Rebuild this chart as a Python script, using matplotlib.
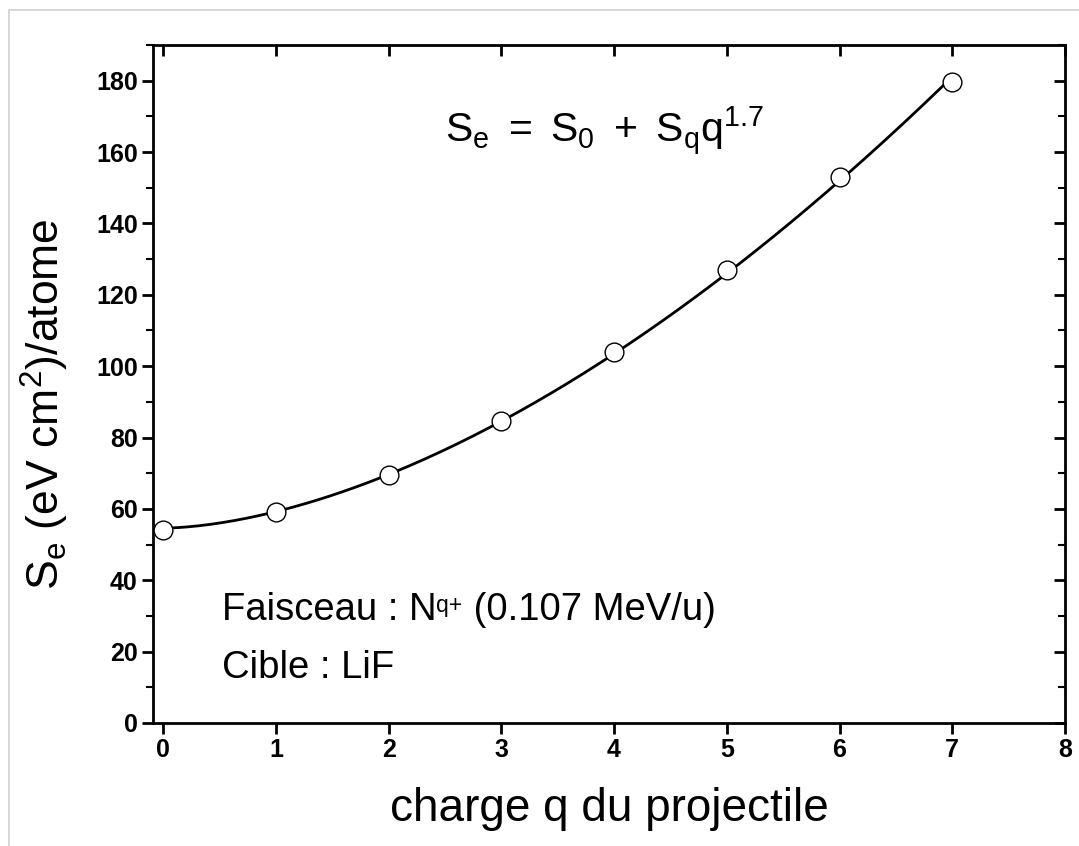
import numpy as np
import matplotlib.pyplot as plt
from matplotlib.ticker import MultipleLocator
from matplotlib.patches import Rectangle

# data
charge = [0, 1, 2, 3, 4, 5, 6, 7]
se_values = [54.0, 59.0, 69.5, 84.5, 104.0, 127.0, 153.0, 179.5]
exponent = 1.7

plt.rcParams['font.family'] = ['Liberation Sans', 'DejaVu Sans']
plt.rcParams['mathtext.fontset'] = 'custom'
plt.rcParams['mathtext.rm'] = 'Liberation Sans'
plt.rcParams['mathtext.it'] = 'Liberation Sans'

# least squares fit of S0 + Sq * q^1.7 on the points
q = np.array(charge, dtype=float)
se = np.array(se_values)
A = np.vstack([np.ones_like(q), q ** exponent]).T
s0, sq = np.linalg.lstsq(A, se, rcond=None)[0]
q_fit = np.linspace(0, 7, 200)
se_fit = s0 + sq * q_fit ** exponent

fig = plt.figure(figsize=(10.79, 8.46), dpi=100)
ax = fig.add_axes([0.1418, 0.1454, 0.8452, 0.8014])

ax.plot(q_fit, se_fit, color='black', lw=2.0, zorder=2)
ax.plot(q, se, 'o', ms=13.5, mfc='white', mec='black', mew=1.0, zorder=3)

ax.set_xlim(-0.09, 8)
ax.set_ylim(0, 190)
ax.xaxis.set_major_locator(MultipleLocator(1))
ax.yaxis.set_major_locator(MultipleLocator(20))
ax.yaxis.set_minor_locator(MultipleLocator(10))

for s in ax.spines.values():
    s.set_linewidth(2.0)

ax.tick_params(axis='both', which='major', direction='out', length=8, width=2,
               labelsize=18, pad=3)
ax.tick_params(axis='y', which='minor', direction='out', length=5, width=1.5)
for lab in ax.get_xticklabels() + ax.get_yticklabels():
    lab.set_fontweight('bold')

# inward ticks on top and right
axt = ax.secondary_xaxis('top')
axt.xaxis.set_major_locator(MultipleLocator(1))
axt.tick_params(direction='in', length=8, width=2, labeltop=False)
axr = ax.secondary_yaxis('right')
axr.yaxis.set_major_locator(MultipleLocator(20))
axr.yaxis.set_minor_locator(MultipleLocator(10))
axr.tick_params(which='major', direction='in', length=8, width=2, labelright=False)
axr.tick_params(which='minor', direction='in', length=5, width=1.5)

ax.set_xlabel('charge q du projectile', fontsize=33)
ax.xaxis.set_label_coords(0.5, -0.095)
ax.set_ylabel(r'$\mathregular{S_e\ (eV\ cm^2)/atome}$', fontsize=32)
ax.yaxis.set_label_coords(-0.09, 0.47)

ax.text(2.5, 166, r'$\mathregular{S_e\ =\ S_0\ +\ S_q q^{1.7}}$', fontsize=29.5,
        ha='left', va='center')

# beam line, with a small superscript q+
t1 = ax.text(0.52, 26.5, 'Faisceau : N', fontsize=27.5, ha='left', va='bottom')
t2 = ax.annotate('q+', xy=(1, 0.95), xycoords=t1, fontsize=16.5,
                 ha='left', va='top')
ax.annotate(' (0.107 MeV/u)', xy=(1, 0), xycoords=(t2, t1), fontsize=27.5,
            ha='left', va='bottom')
ax.text(0.52, 15.4, 'Cible : LiF', fontsize=27.5, ha='left', va='center')

# light frame around the picture
fig.patches.append(Rectangle((0.008, -0.01), 1.0, 0.998, transform=fig.transFigure,
                             fill=False, edgecolor='#d0d0d0', lw=1.2))

fig.savefig('out.png', dpi=100)
